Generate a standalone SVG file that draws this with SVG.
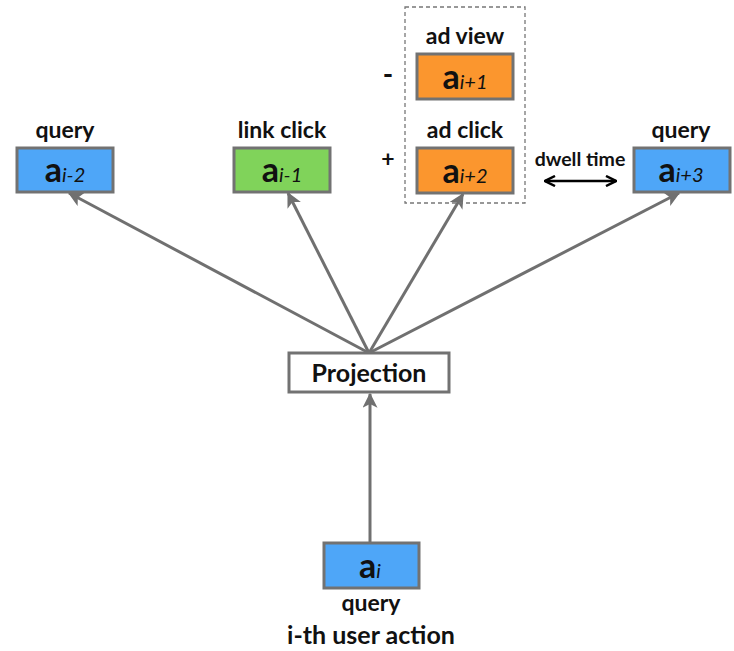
<svg xmlns="http://www.w3.org/2000/svg" width="734" height="651" viewBox="0 0 734 651">
  <style>
    .box { stroke: #727272; stroke-width: 3; }
    .blue { fill: #4ea6f8; }
    .green { fill: #80d35a; }
    .orange { fill: #fb962e; }
    .lbl { font-family: Lato, "Open Sans", sans-serif; font-weight: bold; fill: #111; text-anchor: middle; }
    .act { font-family: Lato, "Open Sans", sans-serif; fill: #111; }
    .a { font-weight: bold; font-size: 34px; }
    .sub { font-style: italic; font-size: 20px; }
    .edge { stroke: #707070; stroke-width: 3; fill: none; marker-end: url(#head); }
  </style>
  <defs>
    <marker id="head" viewBox="0 0 12 12" refX="11" refY="6" markerWidth="5" markerHeight="5" orient="auto" markerUnits="strokeWidth">
      <path d="M0,0 L12,6 L0,12 L3,6 Z" fill="#707070"/>
    </marker>
    <marker id="blk" viewBox="0 0 10 10" refX="9" refY="5" markerWidth="5" markerHeight="5" orient="auto-start-reverse" markerUnits="strokeWidth">
      <path d="M1,1 L9,5 L1,9" fill="none" stroke="#000" stroke-width="2"/>
    </marker>
  </defs>

  <rect width="734" height="651" fill="#fff"/>

  <!-- connectors -->
  <g id="connectors">
    <line class="edge" x1="369" y1="353" x2="69" y2="193"/>
    <line class="edge" x1="369" y1="353" x2="288" y2="193"/>
    <line class="edge" x1="369" y1="353" x2="463" y2="194"/>
    <line class="edge" x1="369" y1="353" x2="679" y2="193"/>
    <line class="edge" x1="370" y1="543" x2="370" y2="394"/>
    <line x1="545" y1="181" x2="616" y2="181" stroke="#000" stroke-width="2.5" marker-start="url(#blk)" marker-end="url(#blk)"/>
  </g>

  <!-- grouping of the ad actions -->
  <rect id="ad-group" x="405" y="7" width="120" height="196" fill="none" stroke="#777" stroke-width="1.3" stroke-dasharray="4,3"/>

  <g id="node-im2">
    <text class="lbl" x="65" y="138" font-size="23">query</text>
    <rect class="box blue" x="17" y="148" width="96" height="44"/>
    <text class="act" x="65" y="182" text-anchor="middle"><tspan class="a">a</tspan><tspan class="sub">i-2</tspan></text>
  </g>

  <g id="node-im1">
    <text class="lbl" x="282" y="138" font-size="23">link click</text>
    <rect class="box green" x="234" y="148" width="96" height="44"/>
    <text class="act" x="282" y="182" text-anchor="middle"><tspan class="a">a</tspan><tspan class="sub">i-1</tspan></text>
  </g>

  <g id="node-ip1">
    <text class="lbl" x="465" y="44" font-size="23">ad view</text>
    <text class="lbl" x="388" y="84" font-size="28">-</text>
    <rect class="box orange" x="417" y="54" width="96" height="45"/>
    <text class="act" x="465" y="89" text-anchor="middle"><tspan class="a">a</tspan><tspan class="sub">i+1</tspan></text>
  </g>

  <g id="node-ip2">
    <text class="lbl" x="465" y="138" font-size="23">ad click</text>
    <text class="lbl" x="388" y="167" font-size="23">+</text>
    <rect class="box orange" x="417" y="148" width="96" height="45"/>
    <text class="act" x="465" y="183" text-anchor="middle"><tspan class="a">a</tspan><tspan class="sub">i+2</tspan></text>
  </g>

  <g id="node-ip3">
    <text class="lbl" x="580" y="166" font-size="19.5">dwell time</text>
    <text class="lbl" x="681" y="138" font-size="23">query</text>
    <rect class="box blue" x="634" y="148" width="96" height="44"/>
    <text class="act" x="681" y="182" text-anchor="middle"><tspan class="a">a</tspan><tspan class="sub">i+3</tspan></text>
  </g>

  <g id="node-projection">
    <rect class="box" x="289" y="353" width="160" height="39" fill="#fff"/>
    <text class="lbl" x="369" y="382" font-size="25">Projection</text>
  </g>

  <g id="node-i">
    <rect class="box blue" x="324" y="543" width="95" height="45"/>
    <text class="act" x="370" y="578" text-anchor="middle"><tspan class="a">a</tspan><tspan class="sub">i</tspan></text>
    <text class="lbl" x="371" y="611" font-size="23">query</text>
    <text class="lbl" x="371" y="644" font-size="25">i-th user action</text>
  </g>
</svg>
